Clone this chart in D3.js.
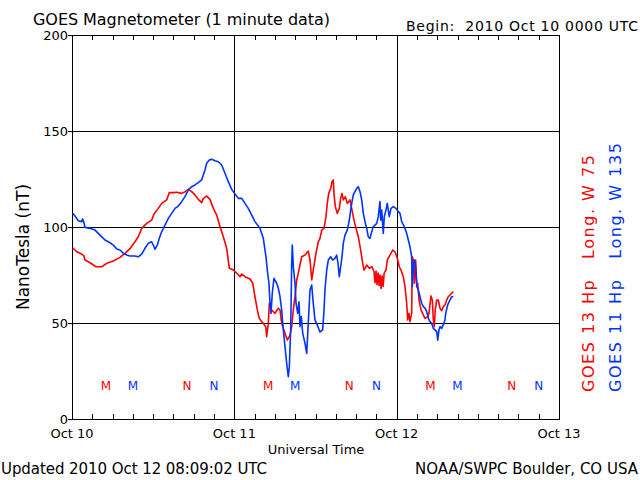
<!DOCTYPE html>
<html>
<head>
<meta charset="utf-8">
<script src="https://cdn.jsdelivr.net/npm/d3@7"></script>
<style>
  html, body { margin: 0; padding: 0; background: #fff; }
  svg { display: block; }
  text { font-family: "DejaVu Sans", sans-serif; fill: #000; white-space: pre; }
</style>
</head>
<body>
<svg id="chart" width="640" height="480"></svg>
<script>
// ---- data (hours since 2010 Oct 10 00:00 UTC, nT) ----
const dayLabels = ["Oct 10", "Oct 11", "Oct 12", "Oct 13"];
const dayHours = [0, 24, 48, 72];
const yTicks = [0, 50, 100, 150, 200];
const minorHours = d3.range(0, 73, 3);

const goes13 = [[0.10,89.2],[0.69,87.1],[1.43,85.9],[1.77,84.9],[1.92,82.8],[2.66,81.4],[3.55,79.3],[4.39,79.3],[5.13,81.1],[6.11,82.3],[7.10,84.2],[7.84,86.3],[8.57,88.7],[9.31,92.3],[9.80,94.9],[10.30,99.3],[11.04,101.9],[11.78,103.6],[12.12,106.8],[12.76,109.7],[13.26,112.3],[14.00,114.1],[14.38,117.9],[14.98,117.9],[15.48,118.1],[16.22,117.5],[16.71,118.4],[17.19,119.6],[17.70,118.4],[18.18,116.7],[18.67,114.4],[19.17,112.7],[19.41,114.9],[19.91,116.1],[20.40,114.4],[20.89,109.7],[21.39,106.2],[21.88,100.2],[22.37,94.9],[22.87,88.9],[23.26,78.5],[23.85,77.6],[24.35,75.9],[24.84,74.1],[25.09,75.5],[25.58,74.1],[26.32,72.9],[26.72,70.7],[27.05,63.7],[27.40,56.8],[27.69,52.4],[28.05,50.7],[28.28,49.8],[28.64,48.1],[28.78,42.9],[29.02,49.8],[29.17,60.3],[29.52,56.8],[30.01,55.0],[30.50,57.7],[30.75,56.8],[31.00,49.8],[31.49,44.6],[31.83,41.1],[32.23,43.7],[32.48,48.1],[32.72,56.8],[32.97,63.7],[33.22,72.4],[33.46,75.9],[33.96,84.5],[34.45,85.4],[34.93,87.5],[35.19,82.8],[35.44,72.4],[35.67,77.6],[36.07,86.3],[36.41,92.3],[36.66,94.1],[36.92,98.4],[37.26,99.3],[37.55,105.4],[37.74,112.3],[37.95,117.5],[38.25,120.1],[38.44,123.6],[38.63,124.5],[38.73,117.5],[38.93,110.6],[39.22,107.1],[39.52,109.7],[39.72,114.9],[39.92,117.5],[40.11,114.1],[40.41,115.8],[40.70,112.3],[41.10,114.1],[41.40,108.8],[41.69,103.6],[41.99,99.3],[42.33,94.9],[42.68,88.0],[42.98,81.1],[43.17,77.6],[43.57,80.2],[43.95,78.5],[44.35,79.3],[44.65,76.7],[44.80,71.0],[44.95,77.0],[45.10,70.0],[45.25,76.0],[45.40,69.5],[45.55,75.0],[45.70,68.0],[45.85,74.5],[46.00,69.0],[46.15,76.0],[46.42,77.6],[46.61,82.8],[47.01,85.4],[47.41,88.0],[47.75,87.1],[48.09,83.7],[48.39,79.3],[48.64,77.6],[48.98,74.1],[49.23,68.9],[49.48,60.3],[49.63,51.6],[49.82,55.0],[49.97,50.7],[50.22,55.0],[50.31,84.5],[50.46,82.8],[50.61,70.7],[50.81,82.8],[50.96,68.9],[51.11,70.7],[51.30,62.0],[51.60,56.8],[51.94,54.2],[52.19,52.4],[52.59,53.3],[52.78,55.0],[53.07,64.1],[53.27,62.0],[53.42,51.6],[53.56,48.1],[53.71,56.8],[53.92,62.0],[54.15,62.0],[54.41,57.7],[54.66,56.4],[54.89,58.5],[55.14,59.4],[55.40,62.0],[55.63,63.7],[55.88,64.6],[56.13,65.5],[56.37,66.3]];

const goes11 = [[0.10,107.1],[0.44,105.7],[0.93,103.3],[1.43,102.8],[1.58,104.2],[1.77,102.2],[1.92,99.8],[2.66,99.3],[3.40,98.4],[4.14,95.8],[4.88,93.2],[5.62,91.8],[6.11,90.6],[6.61,88.5],[7.10,88.0],[7.58,86.3],[8.09,85.4],[8.57,84.9],[9.31,84.9],[9.80,84.5],[10.30,85.9],[10.79,88.9],[11.28,91.5],[11.78,92.3],[12.02,90.6],[12.27,88.4],[12.61,90.6],[12.91,94.1],[13.26,97.5],[13.75,101.0],[14.24,104.5],[14.74,107.1],[15.23,109.7],[15.72,110.9],[16.22,113.2],[16.71,115.8],[17.19,119.3],[17.70,121.0],[18.18,121.9],[18.67,123.1],[19.17,124.5],[19.41,127.1],[19.66,129.7],[19.91,133.2],[20.30,134.9],[20.65,135.3],[21.14,134.5],[21.63,134.0],[22.13,132.3],[22.62,128.0],[23.11,123.6],[23.61,119.6],[24.10,117.2],[24.59,114.9],[25.09,114.9],[25.58,112.3],[26.06,109.7],[26.57,106.2],[27.05,102.8],[27.79,99.3],[28.28,94.1],[28.68,84.5],[28.87,77.6],[29.12,70.7],[29.27,60.3],[29.42,55.0],[29.61,65.5],[29.86,73.3],[30.26,70.7],[30.50,68.1],[30.75,63.7],[31.00,56.8],[31.15,49.8],[31.49,37.7],[31.74,29.0],[31.98,22.0],[32.13,27.2],[32.33,46.4],[32.48,81.1],[32.57,90.6],[32.72,79.3],[32.97,70.7],[33.12,60.3],[33.37,55.0],[33.56,61.1],[33.71,48.1],[33.90,53.3],[34.11,44.6],[34.45,39.4],[34.70,34.2],[34.93,49.8],[35.19,67.2],[35.44,69.8],[35.67,60.3],[35.92,51.6],[36.26,49.0],[36.66,45.3],[37.06,46.4],[37.26,56.8],[37.40,67.2],[37.66,77.6],[37.89,82.8],[38.25,84.5],[38.54,82.8],[38.88,83.7],[39.13,85.4],[39.33,81.1],[39.52,74.1],[39.72,79.3],[39.92,84.5],[40.11,91.5],[40.36,95.8],[40.70,98.4],[41.00,103.6],[41.20,108.8],[41.40,113.2],[41.59,116.7],[41.84,118.4],[42.09,120.1],[42.33,121.0],[42.58,118.4],[42.83,114.1],[43.07,107.1],[43.32,102.8],[43.57,99.3],[43.81,94.9],[44.06,94.1],[44.31,97.5],[44.54,100.2],[44.80,101.0],[45.05,101.9],[45.28,105.4],[45.53,113.2],[45.64,103.6],[45.79,108.8],[46.02,96.7],[46.17,105.4],[46.42,108.8],[46.61,112.3],[46.91,105.4],[47.16,109.7],[47.50,110.6],[47.90,109.7],[48.24,108.0],[48.49,107.1],[48.74,102.8],[49.13,100.2],[49.48,96.7],[49.72,93.2],[49.97,89.7],[50.22,84.5],[50.31,68.9],[50.46,79.3],[50.61,82.8],[50.81,79.3],[51.00,68.9],[51.20,67.2],[51.45,63.7],[51.70,60.3],[51.94,58.5],[52.19,57.7],[52.44,55.9],[52.68,52.4],[52.93,50.7],[53.18,49.8],[53.42,47.2],[53.67,46.4],[53.92,45.5],[54.07,41.1],[54.26,46.4],[54.41,48.1],[54.66,47.2],[54.89,49.0],[55.14,51.6],[55.25,55.0],[55.54,59.4],[55.88,62.0],[56.13,63.7],[56.37,63.7]];

// M (local midnight) / N (local noon) markers
const marksG13 = [{h:5,t:"M"},{h:17,t:"N"},{h:29,t:"M"},{h:41,t:"N"},{h:53,t:"M"},{h:65,t:"N"}];
const marksG11 = [{h:9,t:"M"},{h:21,t:"N"},{h:33,t:"M"},{h:45,t:"N"},{h:57,t:"M"},{h:69,t:"N"}];
const markLevel = 15;

const RED = "#ff0000", BLUE = "#0033ff";

// ---- drawing ----
const svg = d3.select("#chart");
const L = 72, R = 559, T = 35, B = 419;
const x = d3.scaleLinear().domain([0, 72]).range([L, R]);
const y = d3.scaleLinear().domain([0, 200]).range([B, T]);

svg.append("rect").attr("width", 640).attr("height", 480).attr("fill", "#fff");

// grid lines
svg.append("g").selectAll("line").data(yTicks.filter(v => v > 0 && v < 200)).join("line")
  .attr("x1", L).attr("x2", R).attr("y1", d => Math.round(y(d)) + 0.5).attr("y2", d => Math.round(y(d)) + 0.5)
  .attr("stroke", "#000").attr("stroke-width", 1);
svg.append("g").selectAll("line").data(dayHours.filter(h => h > 0 && h < 72)).join("line")
  .attr("x1", d => Math.round(x(d)) + 0.5).attr("x2", d => Math.round(x(d)) + 0.5).attr("y1", T).attr("y2", B)
  .attr("stroke", "#000").attr("stroke-width", 1);

// minor ticks bottom (inward) and top (inward)
const gb = svg.append("g").attr("transform", `translate(0,${B})`)
  .call(d3.axisBottom(x).tickValues(minorHours).tickSize(-5).tickFormat(""));
const gt = svg.append("g").attr("transform", `translate(0,${T})`)
  .call(d3.axisTop(x).tickValues(minorHours).tickSize(-5).tickFormat(""));
const gl = svg.append("g").attr("transform", `translate(${L},0)`)
  .call(d3.axisLeft(y).tickValues(yTicks).tickSize(4).tickFormat(""));
[gb, gt, gl].forEach(g => {
  g.select(".domain").remove();
  g.selectAll("line").attr("stroke", "#000").attr("shape-rendering", "crispEdges");
});

// frame
svg.append("rect").attr("x", L + 0.5).attr("y", T + 0.5).attr("width", R - L).attr("height", B - T)
  .attr("fill", "none").attr("stroke", "#000").attr("stroke-width", 1);

// y labels
svg.append("g").selectAll("text").data(yTicks).join("text")
  .attr("x", L - 4).attr("y", d => y(d) + 5).attr("text-anchor", "end")
  .attr("font-size", 13).text(d => d);

// x labels
svg.append("g").selectAll("text").data(dayHours).join("text")
  .attr("x", d => x(d)).attr("y", 438).attr("text-anchor", "middle")
  .attr("font-size", 13).text((d, i) => dayLabels[i]);

// series
const line = d3.line().x(d => x(d[0])).y(d => y(d[1]));
svg.append("path").datum(goes13).attr("d", line).attr("fill", "none")
  .attr("stroke", RED).attr("stroke-width", 1.6).attr("stroke-linejoin", "round");
svg.append("path").datum(goes11).attr("d", line).attr("fill", "none")
  .attr("stroke", BLUE).attr("stroke-width", 1.6).attr("stroke-linejoin", "round");

// M/N markers
svg.append("g").selectAll("text").data(marksG13).join("text")
  .attr("x", d => x(d.h)).attr("y", y(markLevel)).attr("text-anchor", "middle")
  .attr("font-size", 12).style("fill", RED).text(d => d.t);
svg.append("g").selectAll("text").data(marksG11).join("text")
  .attr("x", d => x(d.h)).attr("y", y(markLevel)).attr("text-anchor", "middle")
  .attr("font-size", 12).style("fill", BLUE).text(d => d.t);

// titles and labels
svg.append("text").attr("x", 33).attr("y", 25).attr("font-size", 16)
  .attr("textLength", 297).attr("lengthAdjust", "spacing")
  .text("GOES Magnetometer (1 minute data)");
svg.append("text").attr("x", 406).attr("y", 31).attr("font-size", 14)
  .attr("textLength", 232).attr("lengthAdjust", "spacing")
  .text("Begin:  2010 Oct 10 0000 UTC");
svg.append("text").attr("x", 316).attr("y", 454).attr("font-size", 13)
  .attr("text-anchor", "middle").text("Universal Time");
svg.append("text").attr("x", 1).attr("y", 474).attr("font-size", 15)
  .attr("textLength", 266).attr("lengthAdjust", "spacing")
  .text("Updated 2010 Oct 12 08:09:02 UTC");
svg.append("text").attr("x", 638).attr("y", 474).attr("font-size", 15)
  .attr("text-anchor", "end")
  .text("NOAA/SWPC Boulder, CO USA");
svg.append("text").attr("transform", "translate(29,247) rotate(-90)")
  .attr("text-anchor", "middle").attr("font-size", 17).text("NanoTesla (nT)");
svg.append("text").attr("transform", "translate(594,392) rotate(-90)")
  .attr("font-size", 16).style("fill", RED)
  .attr("textLength", 237).attr("lengthAdjust", "spacing")
  .text("GOES 13 Hp   Long. W 75");
svg.append("text").attr("transform", "translate(621,392) rotate(-90)")
  .attr("font-size", 16).style("fill", BLUE)
  .attr("textLength", 249).attr("lengthAdjust", "spacing")
  .text("GOES 11 Hp   Long. W 135");
</script>
</body>
</html>
